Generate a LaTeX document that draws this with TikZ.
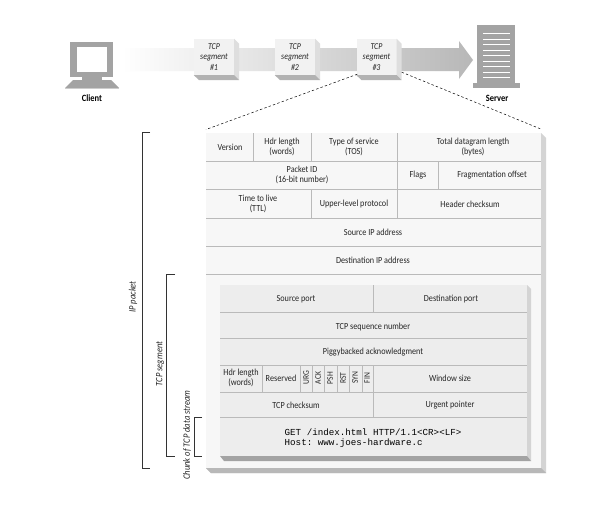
\documentclass[tikz,border=0pt]{standalone}
\usepackage{fontspec}
\setmainfont[FakeStretch=0.88]{Carlito}
\setmonofont{Liberation Mono}
\begin{document}
\begin{tikzpicture}[x=1pt,y=-1pt,
  lab/.style={font=\fontsize{9.3}{10}\selectfont,align=center,inner sep=0pt,text=black!85},
  sideLab/.style={font=\fontsize{9.7}{10}\itshape\selectfont,rotate=90,inner sep=0pt,text=black!85},
  flagLab/.style={font=\fontsize{8.6}{9}\selectfont,rotate=90,inner sep=0pt,text=black!85},
  devLab/.style={font=\fontsize{9.6}{10}\bfseries\selectfont,inner sep=0pt},
  segbox/.style={fill=black!5,minimum width=40pt,minimum height=36pt,inner sep=0pt,align=center,
     font=\fontsize{9}{10.5}\itshape\selectfont,text=black!85},
  segside/.style={fill=black!13},
  segbottom/.style={fill=black!30},
  rule/.style={draw=black!27,line width=1pt},
  bracket/.style={draw=black!80,line width=0.7pt},
  zoomline/.style={draw=black,line width=0.5pt,dash pattern=on 2.4pt off 2.2pt},
  device/.style={fill=black!36}
  ]
\useasboundingbox (0,0) rectangle (612,506);
\fill[white] (0,0) rectangle (612,506);

% big arrow
\shade[left color=white,right color=black!28]
  (122,48) -- (459,48) -- (459,41) -- (473,60) -- (459,79) -- (459,71) -- (122,71) -- cycle;

% client
\fill[device] (70,42) rectangle (113,77);
\fill[white] (77,47) rectangle (107,72);
\fill[device] (82,77) rectangle (102,80);
\fill[device] (73,80) -- (111,80) -- (119,88) -- (65,88) -- cycle;
\draw[black!20,line width=0.5pt] (65,88.5) -- (119,88.5);
\node[devLab] (client) at (92,98) {Client};

% server
\fill[device] (477,25) rectangle (515,83);
\fill[device] (473,83) rectangle (520,88);
\foreach \yy in {33.5,39,44.5,50,55.5,61,66.5,72,77.5}
  \draw[white,line width=0.9pt] (483,\yy) -- (510,\yy);
\node[devLab] (server) at (497,98) {Server};

% segments
\foreach \nm/\xx/\tt in {seg1/214/1,seg2/295/2,seg3/376.5/3}{
  \node[segbox] (\nm) at (\xx,57) {TCP\\segment\\\#\tt};
  \fill[segside] (\nm.north east) -- ++(5,5) -- ++(0,36) -- (\nm.south east) -- cycle;
  \fill[segbottom] (\nm.south west) -- (\nm.south east) -- ++(5,5) -- ++(-40,0) -- cycle;
}

% zoom lines
\coordinate (zl) at (206,129.5);
\coordinate (zr) at (542,129.5);
\path[zoomline] ([xshift=1pt,yshift=1pt]seg3.south west) -- (zl);
\path[zoomline] ([xshift=5pt,yshift=3pt]seg3.south east) -- (zr);

% outer box
\fill[black!17] (541,133) -- (546,138) -- (546,473) -- (211,473) -- (206,468) -- (541,468) -- cycle;
\fill[black!28] (206,468) -- (541,468) -- (546,473) -- (211,473) -- cycle;
\fill[black!3] (206,133) rectangle (541,468);
\foreach \yy in {161,189,218,246,274} \draw[rule] (206,\yy) -- (541,\yy);
\draw[rule] (253,133) -- (253,161);
\draw[rule] (311,133) -- (311,161);
\draw[rule] (397,133) -- (397,218);
\draw[rule] (438,161) -- (438,189);
\draw[rule] (311,189) -- (311,218);

% inner box
\fill[black!17] (527,285) -- (531,289) -- (531,461) -- (527,456) -- cycle;
\fill[black!36] (220,456) -- (527,456) -- (531,461) -- (224,461) -- cycle;
\fill[black!7] (220,285) rectangle (527,456);
\foreach \yy in {312,338,365,392,417} \draw[rule] (220,\yy) -- (527,\yy);
\draw[rule] (373,285) -- (373,312);
\draw[rule] (373,365) -- (373,417);
\foreach \xx in {262,300,312,324,337,349,362} \draw[rule,line width=0.8pt] (\xx,365) -- (\xx,392);

% outer labels
\node[lab] (version) at (230,147) {Version};
\node[lab] (hdr) at (282,147) {Hdr length\\(words)};
\node[lab] (tos) at (354,147) {Type of service\\(TOS)};
\node[lab] (total) at (473,147) {Total datagram length\\(bytes)};
\node[lab] (pid) at (302,175) {Packet ID\\(16-bit number)};
\node[lab] (flags) at (418,175) {Flags};
\node[lab] (frag) at (492,175) {Fragmentation offset};
\node[lab] (ttl) at (258,204) {Time to live\\(TTL)};
\node[lab] (ulp) at (354,204) {Upper-level protocol};
\node[lab] (hcs) at (470,204) {Header checksum};
\node[lab] (sip) at (373,232) {Source IP address};
\node[lab] (dip) at (373,260) {Destination IP address};

% inner labels
\node[lab] (sport) at (296,299) {Source port};
\node[lab] (dport) at (451,299) {Destination port};
\node[lab] (seq) at (373,327) {TCP sequence number};
\node[lab] (ack) at (373,352) {Piggybacked acknowledgment};
\node[lab] (thdr) at (241,378) {Hdr length\\(words)};
\node[lab] (resv) at (281,378) {Reserved};
\node[flagLab] (urg) at (306,378) {URG};
\node[flagLab] (fack) at (318,378) {ACK};
\node[flagLab] (psh) at (330,378) {PSH};
\node[flagLab] (rst) at (343,378) {RST};
\node[flagLab] (syn) at (355,378) {SYN};
\node[flagLab] (fin) at (367,378) {FIN};
\node[lab] (win) at (450,378) {Window size};
\node[lab] (tcs) at (296,405) {TCP checksum};
\node[lab] (urgp) at (450,405) {Urgent pointer};
\node[anchor=north west,inner sep=0pt,align=left,font=\fontsize{9.2}{10.6}\ttfamily\selectfont] (data) at (284.5,428.5)
  {GET /index.html HTTP/1.1<CR><LF>\\Host: www.joes-hardware.c};

% brackets
\draw[bracket] (150,132) -- (142,132) -- (142,468) -- (150,468);
\draw[bracket] (175,274) -- (166,274) -- (166,456) -- (175,456);
\draw[bracket] (202,417) -- (194,417) -- (194,456) -- (202,456);
\node[sideLab] (ip) at (133,297) {IP packet};
\node[sideLab] (tcp) at (160,364) {TCP segment};
\node[sideLab] (chunk) at (187,435) {Chunk of TCP data stream};
\end{tikzpicture}
\end{document}
